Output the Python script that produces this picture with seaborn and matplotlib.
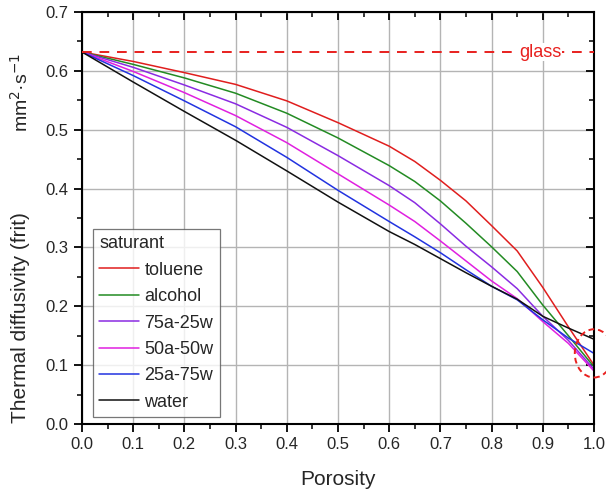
import matplotlib
matplotlib.use("Agg")
import matplotlib.pyplot as plt
from matplotlib.patches import Ellipse
from matplotlib.ticker import MultipleLocator, FormatStrFormatter
import matplotlib.lines as mlines
import pandas as pd
import seaborn as sns

porosity = [0.0, 0.1, 0.2, 0.3, 0.4, 0.5, 0.6, 0.65, 0.7, 0.75, 0.8, 0.85, 0.9, 0.95, 1.0]
toluene = [0.632, 0.616, 0.597, 0.577, 0.549, 0.512, 0.472, 0.446, 0.414, 0.379, 0.337, 0.294, 0.232, 0.165, 0.100]
alcohol = [0.632, 0.611, 0.588, 0.562, 0.528, 0.486, 0.439, 0.412, 0.379, 0.341, 0.301, 0.259, 0.202, 0.150, 0.097]
a75w25 = [0.632, 0.606, 0.576, 0.544, 0.504, 0.456, 0.405, 0.376, 0.340, 0.302, 0.267, 0.230, 0.183, 0.142, 0.093]
a50w50 = [0.632, 0.599, 0.563, 0.524, 0.478, 0.425, 0.372, 0.344, 0.311, 0.277, 0.243, 0.213, 0.174, 0.137, 0.090]
a25w75 = [0.632, 0.592, 0.549, 0.505, 0.453, 0.397, 0.344, 0.318, 0.291, 0.262, 0.234, 0.211, 0.177, 0.146, 0.120]
water = [0.632, 0.581, 0.531, 0.482, 0.430, 0.377, 0.327, 0.305, 0.281, 0.257, 0.234, 0.212, 0.183, 0.163, 0.144]
glass = 0.632

names = ["toluene", "alcohol", "75a-25w", "50a-50w", "25a-75w", "water"]
series = [toluene, alcohol, a75w25, a50w50, a25w75, water]
colors = ["#e01e1e", "#238b23", "#8a2be2", "#e020e0", "#2233e0", "#111111"]

rows = []
for n, s in zip(names, series):
    for x, y in zip(porosity, s):
        rows.append({"Porosity": x, "value": y, "saturant": n})
df = pd.DataFrame(rows)

sns.set_style("white")
plt.rcParams["font.family"] = ["Liberation Sans", "DejaVu Sans"]

fig = plt.figure(figsize=(6.06, 4.92), dpi=100)
ax = fig.add_axes([82/606, 1-424/492, 512/606, 412/492])

ax.grid(True, which="major", color="#b4b4b4", linewidth=1.0)
ax.set_axisbelow(True)

sns.lineplot(data=df, x="Porosity", y="value", hue="saturant",
             palette=dict(zip(names, colors)), hue_order=names,
             sort=False, estimator=None, linewidth=1.1, ax=ax, legend=True)

ax.axhline(glass, color="#e8201e", linestyle=(0, (5, 4)), linewidth=1.4, zorder=3)
ax.text(0.895, glass, "glass", color="#e8201e", fontsize=13, ha="center", va="center",
        bbox=dict(facecolor="white", edgecolor="none", pad=0.5), zorder=4)

ell = Ellipse((1.0, 0.12), 0.075, 0.082, fill=False, edgecolor="#e8201e",
              linestyle=(0, (3, 2)), linewidth=1.4, clip_on=False, zorder=5)
ax.add_patch(ell)

ax.set_xlim(0, 1.0)
ax.set_ylim(0, 0.7)
ax.xaxis.set_major_locator(MultipleLocator(0.1))
ax.xaxis.set_minor_locator(MultipleLocator(0.05))
ax.yaxis.set_major_locator(MultipleLocator(0.1))
ax.yaxis.set_minor_locator(MultipleLocator(0.05))
ax.xaxis.set_major_formatter(FormatStrFormatter("%.1f"))
ax.yaxis.set_major_formatter(FormatStrFormatter("%.1f"))

for sp in ax.spines.values():
    sp.set_color("black")
    sp.set_linewidth(1.5)

ax.tick_params(axis="both", which="major", direction="out", length=6, width=1.3,
               labelsize=12, color="black", bottom=True, left=True)
ax.tick_params(axis="both", which="minor", direction="out", length=3.5, width=1.3,
               bottom=True, left=True)
ax.tick_params(axis="x", which="both", top=True)
ax.tick_params(axis="y", which="both", right=True)
for t in ax.xaxis.get_major_ticks() + ax.xaxis.get_minor_ticks():
    t.tick2line.set_marker(mlines.TICKDOWN)
for t in ax.yaxis.get_major_ticks() + ax.yaxis.get_minor_ticks():
    t.tick2line.set_marker(mlines.TICKLEFT)

ax.set_xlabel("Porosity", fontsize=15, labelpad=13)
ax.set_ylabel("")
fig.text(21/606, 1-318/492, "Thermal diffusivity (frit)", fontsize=15,
         rotation=90, ha="center", va="center")
fig.text(21/606, 1-92/492, "mm$^{2}$·s$^{-1}$", fontsize=14,
         rotation=90, ha="center", va="center")

handles, labels = ax.get_legend_handles_labels()
leg = ax.legend(handles, labels, title="saturant", loc="lower left",
                bbox_to_anchor=(0.0215, 0.017), fontsize=13, title_fontsize=13,
                handlelength=2.2, handletextpad=0.3, labelspacing=0.52,
                frameon=True, fancybox=False, edgecolor="#555555",
                borderpad=0.35, borderaxespad=0.0, alignment="left")
leg.get_frame().set_linewidth(0.9)
for line in leg.get_lines():
    line.set_linewidth(1.1)

fig.savefig("out.png", dpi=100)
